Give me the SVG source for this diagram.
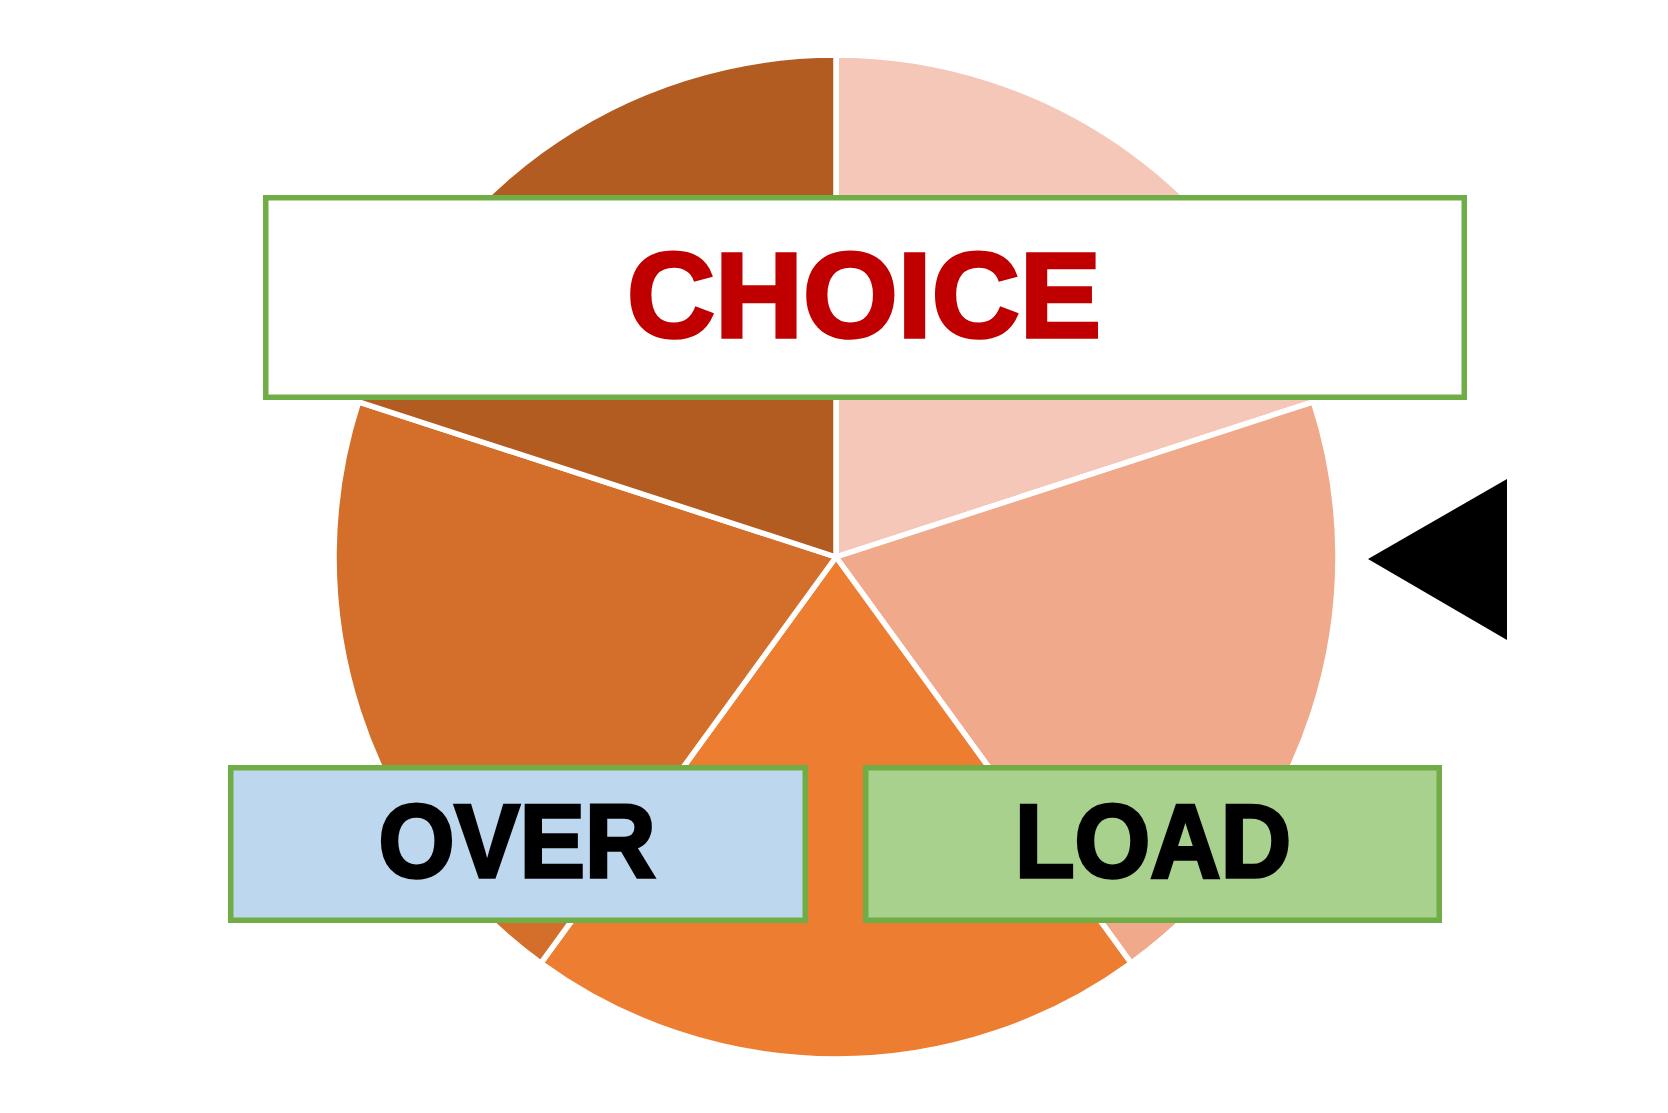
<svg xmlns="http://www.w3.org/2000/svg" width="1668" height="1113" viewBox="0 0 1668 1113">
  <style>
    .slice { stroke: #FFFFFF; stroke-width: 5.5; stroke-linejoin: round; }
    .box { stroke: #70AD47; stroke-width: 5.5; }
    .label { font-family: "Liberation Sans", Arial, sans-serif; font-weight: bold; text-anchor: middle; stroke-width: 3.5; stroke-linejoin: miter; }
  </style>
  <rect x="0" y="0" width="1668" height="1113" fill="#FFFFFF"/>
  <g id="pie">
    <path id="slice-top-right" class="slice" fill="#F5C7B8" d="M836,557 L836,55 A502,502 0 0 1 1313.43,401.87 Z"/>
    <path id="slice-right" class="slice" fill="#F0A98A" d="M836,557 L1313.43,401.87 A502,502 0 0 1 1131.07,963.13 Z"/>
    <path id="slice-bottom" class="slice" fill="#ED7D31" d="M836,557 L1131.07,963.13 A502,502 0 0 1 540.93,963.13 Z"/>
    <path id="slice-left" class="slice" fill="#D36F2B" d="M836,557 L540.93,963.13 A502,502 0 0 1 358.57,401.87 Z"/>
    <path id="slice-top-left" class="slice" fill="#B35C22" d="M836,557 L358.57,401.87 A502,502 0 0 1 836,55 Z"/>
  </g>
  <g id="choice">
    <rect class="box" x="265.75" y="197.75" width="1198.5" height="199.5" fill="#FFFFFF"/>
    <text class="label" x="864" y="336.5" font-size="121" fill="#C00000" stroke="#C00000" textLength="474" lengthAdjust="spacingAndGlyphs">CHOICE</text>
  </g>
  <g id="over">
    <rect class="box" x="230.75" y="767.75" width="574.5" height="152.5" fill="#BDD7EE"/>
    <text class="label" x="517" y="876.5" font-size="104" fill="#000000" stroke="#000000" textLength="277" lengthAdjust="spacingAndGlyphs">OVER</text>
  </g>
  <g id="load">
    <rect class="box" x="865.75" y="767.75" width="573.5" height="152.5" fill="#A9D18E"/>
    <text class="label" x="1153" y="876.5" font-size="104" fill="#000000" stroke="#000000" textLength="276" lengthAdjust="spacingAndGlyphs">LOAD</text>
  </g>
  <g id="pointer">
    <polygon points="1368,559 1507,479 1507,640" fill="#000000"/>
  </g>
</svg>
